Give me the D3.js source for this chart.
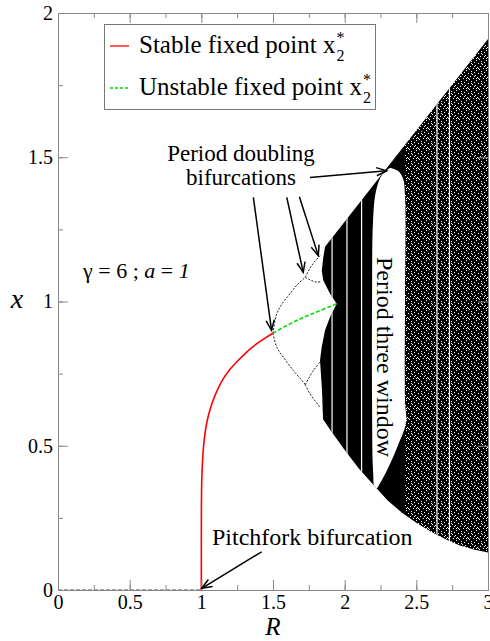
<!DOCTYPE html>
<html>
<head>
<meta charset="utf-8">
<script src="https://cdn.jsdelivr.net/npm/d3@7/dist/d3.min.js"></script>
<style>
  body { margin: 0; background: #fff; }
  text { font-family: "Liberation Serif", "Times New Roman", serif; }
</style>
</head>
<body>
<div id="chart"></div>
<script>
// ---- data ----
const xTicks = [0, 0.5, 1, 1.5, 2, 2.5, 3];
const yTicks = [0, 0.5, 1, 1.5, 2];

// x = 0 branch (unstable for R > 1), drawn dashed up to the pitchfork
const zeroR = [0, 1];
const zeroX = [0, 0];

// stable fixed point x2*
const stableR = [1.0, 1.0005, 1.002, 1.005, 1.01, 1.02, 1.04, 1.07, 1.1, 1.15, 1.2, 1.25, 1.3, 1.35, 1.4, 1.45, 1.5];
const stableX = [0, 0.28, 0.355, 0.41, 0.46, 0.52, 0.585, 0.64, 0.68, 0.73, 0.765, 0.792, 0.817, 0.839, 0.858, 0.875, 0.89];

// unstable fixed point x2*
const unstableR = [1.5, 1.6, 1.7, 1.8, 1.9, 1.944];
const unstableX = [0.89, 0.918, 0.942, 0.963, 0.983, 0.992];

// period doubling branches
const p2UpR = [1.5, 1.526, 1.572, 1.619, 1.665, 1.725];
const p2UpX = [0.89, 0.957, 0.998, 1.027, 1.056, 1.084];
const p2LoR = [1.5, 1.526, 1.572, 1.642, 1.70, 1.725];
const p2LoX = [0.89, 0.842, 0.807, 0.761, 0.727, 0.712];
const p4UUR = [1.725, 1.77, 1.828];
const p4UUX = [1.084, 1.125, 1.159];
const p4ULR = [1.725, 1.758, 1.805, 1.84];
const p4ULX = [1.084, 1.075, 1.067, 1.07];
const p4LUR = [1.725, 1.782, 1.828];
const p4LUX = [0.712, 0.761, 0.79];
const p4LLR = [1.725, 1.758, 1.828];
const p4LLX = [0.712, 0.68, 0.634];

// chaotic band: upper edge, lower edge, left border (top to bottom)
const upperR = [1.863, 3.0];
const upperX = [1.19, 1.91];
const lowerR = [1.849, 1.9, 2.0, 2.1, 2.2, 2.3, 2.4, 2.5, 2.6, 2.7, 2.8, 2.9, 3.0];
const lowerX = [0.592, 0.555, 0.485, 0.42, 0.365, 0.31, 0.268, 0.233, 0.203, 0.177, 0.155, 0.14, 0.13];
const leftR = [1.863, 1.851, 1.84, 1.851, 1.898, 1.944, 1.898, 1.863, 1.84, 1.828, 1.842, 1.849];
const leftX = [1.19, 1.153, 1.107, 1.073, 1.027, 0.992, 0.946, 0.9, 0.842, 0.796, 0.692, 0.592];

// period three window (white lens)
const lensR = [2.316, 2.372, 2.407, 2.421, 2.421, 2.421, 2.428, 2.372, 2.302, 2.247, 2.212, 2.198, 2.191, 2.191, 2.198, 2.219, 2.261];
const lensX = [1.464, 1.453, 1.426, 1.367, 1.003, 0.657, 0.581, 0.502, 0.422, 0.37, 0.346, 0.415, 0.657, 1.003, 1.28, 1.384, 1.439];

// narrow periodic windows (white stripes)
const windowR = [1.912, 2.016, 2.118, 2.644, 2.731];

// speckled part of the chaotic band: [R from, R to, x from, x to]
const speckleBoxes = [
  [2.42, 3.0, 0, 2]
];

// annotations: [start R, start x, end R, end x]
const arrows = [
  [1.421, 0.1325, 1.003, 0.006],
  [1.363, 1.361, 1.49, 0.9],
  [1.596, 1.361, 1.711, 1.101],
  [1.684, 1.363, 1.816, 1.159],
  [1.758, 1.43, 2.293, 1.453]
];

// ---- layout ----
const W = 490, H = 641;
const margin = { top: 13, right: 2, bottom: 51, left: 58 };
const width = W - margin.left - margin.right;
const height = H - margin.top - margin.bottom;

const svg = d3.select("#chart").append("svg")
  .attr("width", W)
  .attr("height", H);

const defs = svg.append("defs");
defs.append("clipPath").attr("id", "plotClip")
  .append("rect").attr("width", width).attr("height", height);

// speckle tile (fixed texture)
function tile(id, dots) {
  const p = defs.append("pattern")
    .attr("id", id)
    .attr("patternUnits", "userSpaceOnUse")
    .attr("width", 10).attr("height", 10);
  dots.forEach(d => p.append("rect").attr("x", d[0]).attr("y", d[1]).attr("width", 1).attr("height", 1).attr("fill", "#fff"));
}
tile("speckle0", [[0, 0], [4, 1], [7, 2], [2, 3], [9, 4], [5, 5], [1, 6], [8, 7], [3, 8], [6, 9], [0, 5], [6, 3], [3, 0], [8, 5]]);

const g = svg.append("g").attr("transform", `translate(${margin.left},${margin.top})`);

const x = d3.scaleLinear().domain([0, 3]).range([0, width]);
const y = d3.scaleLinear().domain([0, 2]).range([height, 0]);

const zip = (rs, xs) => rs.map((r, i) => [r, xs[i]]);
const line = d3.line().x(d => x(d[0])).y(d => y(d[1]));
const smooth = d3.line().curve(d3.curveCatmullRom).x(d => x(d[0])).y(d => y(d[1]));

const plot = g.append("g").attr("clip-path", "url(#plotClip)");

// chaotic band
const band = zip(upperR, upperX)
  .concat(zip(lowerR, lowerX).reverse())
  .concat(zip(leftR, leftX).reverse().slice(1));
defs.append("clipPath").attr("id", "bandClip")
  .append("path").attr("d", line(band) + "Z");

plot.append("path")
  .attr("d", line(band) + "Z")
  .attr("fill", "#000");

const bandG = plot.append("g").attr("clip-path", "url(#bandClip)");
bandG.selectAll("rect.speck")
  .data(speckleBoxes)
  .join("rect")
  .attr("class", "speck")
  .attr("x", d => x(d[0]))
  .attr("y", d => y(d[3]))
  .attr("width", d => x(d[1]) - x(d[0]))
  .attr("height", d => y(d[2]) - y(d[3]))
  .attr("fill", (d, i) => `url(#speckle${i})`);

bandG.selectAll("line.win")
  .data(windowR)
  .join("line")
  .attr("class", "win")
  .attr("x1", d => x(d)).attr("x2", d => x(d))
  .attr("y1", 0).attr("y2", height)
  .attr("stroke", "#fff")
  .attr("stroke-width", 1.2);

bandG.append("path")
  .attr("d", smooth(zip(lensR, lensX).concat([[lensR[0], lensX[0]]])) + "Z")
  .attr("fill", "#fff");

// period doubling branches
[[p2UpR, p2UpX], [p2LoR, p2LoX], [p4UUR, p4UUX], [p4ULR, p4ULX], [p4LUR, p4LUX], [p4LLR, p4LLX]]
  .forEach(b => {
    plot.append("path")
      .attr("d", smooth(zip(b[0], b[1])))
      .attr("fill", "none")
      .attr("stroke", "#222")
      .attr("stroke-width", 1)
      .attr("stroke-dasharray", "2,1.5");
  });

// x = 0 branch
plot.append("path")
  .attr("d", line(zip(zeroR, zeroX)))
  .attr("fill", "none")
  .attr("stroke", "#444")
  .attr("stroke-width", 1.2)
  .attr("stroke-dasharray", "4,2");

// fixed point x2*
plot.append("path")
  .attr("d", smooth(zip(stableR, stableX)))
  .attr("fill", "none")
  .attr("stroke", "#f00")
  .attr("stroke-width", 1.6);

plot.append("path")
  .attr("d", smooth(zip(unstableR, unstableX)))
  .attr("fill", "none")
  .attr("stroke", "#0d0")
  .attr("stroke-width", 1.6)
  .attr("stroke-dasharray", "4,2");

// ---- axes ----
const axisColor = "#888";
function styleAxis(sel) {
  sel.attr("font-family", null);
  sel.selectAll("path.domain").attr("stroke", axisColor);
  sel.selectAll(".tick line").attr("stroke", axisColor);
  sel.selectAll("text").attr("fill", "#000").style("font-size", "20px")
    .style("font-family", '"Liberation Serif", serif');
}
const minorX = d3.range(0, 3.01, 0.25);
const minorY = d3.range(0, 2.01, 0.25);

g.append("g").attr("transform", `translate(0,${height})`)
  .call(d3.axisBottom(x).tickValues(minorX).tickSize(-5).tickFormat("")).call(styleAxis);
g.append("g").attr("transform", `translate(0,${height})`)
  .call(d3.axisBottom(x).tickValues(xTicks).tickSize(-10).tickPadding(5).tickFormat(d3.format("~g"))).call(styleAxis);
g.append("g")
  .call(d3.axisTop(x).tickValues(minorX).tickSize(-5).tickFormat("")).call(styleAxis);
g.append("g")
  .call(d3.axisTop(x).tickValues(xTicks).tickSize(-10).tickFormat("")).call(styleAxis);
g.append("g")
  .call(d3.axisLeft(y).tickValues(minorY).tickSize(-5).tickFormat("")).call(styleAxis);
g.append("g")
  .call(d3.axisLeft(y).tickValues(yTicks).tickSize(-10).tickPadding(5).tickFormat(d3.format("~g"))).call(styleAxis);
g.append("g").attr("transform", `translate(${width},0)`)
  .call(d3.axisRight(y).tickValues(yTicks).tickSize(-10).tickFormat("")).call(styleAxis);

// axis titles
svg.append("text")
  .attr("x", margin.left + x(1.5)).attr("y", 635)
  .attr("text-anchor", "middle")
  .style("font-size", "25px").style("font-style", "italic")
  .text("R");
svg.append("text")
  .attr("x", 17).attr("y", 308)
  .attr("text-anchor", "middle")
  .style("font-size", "28px").style("font-style", "italic")
  .text("x");

// ---- annotations ----
const arrowG = g.append("g");
arrows.forEach(a => {
  const x1 = x(a[0]), y1 = y(a[1]), x2 = x(a[2]), y2 = y(a[3]);
  const ang = Math.atan2(y2 - y1, x2 - x1);
  const L = 11, spread = 0.38;
  arrowG.append("line")
    .attr("x1", x1).attr("y1", y1).attr("x2", x2).attr("y2", y2)
    .attr("stroke", "#000").attr("stroke-width", 1.5);
  arrowG.append("path")
    .attr("d", `M${x2 - L * Math.cos(ang - spread)},${y2 - L * Math.sin(ang - spread)}L${x2},${y2}L${x2 - L * Math.cos(ang + spread)},${y2 - L * Math.sin(ang + spread)}`)
    .attr("fill", "none").attr("stroke", "#000").attr("stroke-width", 1.5);
});

const ann = svg.append("g").style("font-size", "23px");
ann.append("text").attr("x", 241).attr("y", 161).attr("text-anchor", "middle").text("Period doubling");
ann.append("text").attr("x", 241).attr("y", 185).attr("text-anchor", "middle").text("bifurcations");
ann.append("text").attr("x", 212).attr("y", 545).style("font-size", "24px").text("Pitchfork bifurcation");
ann.append("text")
  .attr("transform", "translate(377,257) rotate(90)")
  .style("font-size", "24px")
  .text("Period three window");

const gam = svg.append("text").attr("x", 83).attr("y", 278).style("font-size", "22px");
gam.append("tspan").text("γ = 6 ; ");
gam.append("tspan").style("font-style", "italic").text("a");
gam.append("tspan").text(" = ");
gam.append("tspan").style("font-style", "italic").text("1");

// ---- legend ----
const leg = svg.append("g");
leg.append("rect")
  .attr("x", 104.5).attr("y", 24.5).attr("width", 271).attr("height", 85)
  .attr("fill", "#fff").attr("stroke", "#777").attr("stroke-width", 1);
const legItems = [
  { label: "Stable fixed point x", color: "#f00", dash: null, y: 53 },
  { label: "Unstable fixed point x", color: "#0d0", dash: "3,2", y: 95 }
];
legItems.forEach(it => {
  leg.append("line")
    .attr("x1", 110).attr("x2", 129).attr("y1", it.y - 7).attr("y2", it.y - 7)
    .attr("stroke", it.color).attr("stroke-width", 1.3)
    .attr("stroke-dasharray", it.dash);
  const t = leg.append("text").attr("x", 139).attr("y", it.y).style("font-size", "25px").text(it.label);
  const w = t.node().getComputedTextLength();
  leg.append("text").attr("x", 139 + w + 1).attr("y", it.y + 8).style("font-size", "16px").text("2");
  leg.append("text").attr("x", 139 + w + 1).attr("y", it.y - 10).style("font-size", "16px").text("*");
});
</script>
</body>
</html>
